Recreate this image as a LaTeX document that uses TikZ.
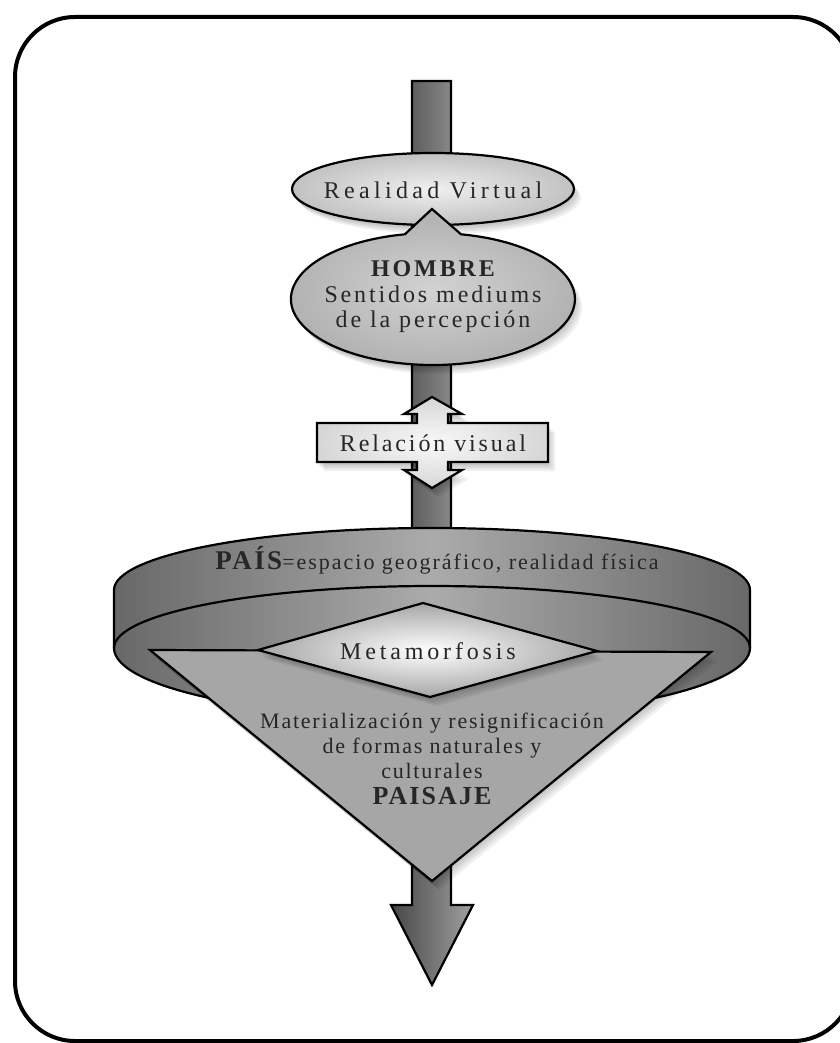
\documentclass[tikz,border=0pt]{standalone}
\usepackage{fontspec}
\setmainfont{Liberation Serif}
\usetikzlibrary{shapes.geometric,calc}

\definecolor{ink}{HTML}{262626}
\definecolor{shaftdark}{HTML}{474747}
\definecolor{shaftlight}{HTML}{A0A0A0}
\definecolor{bandedge}{HTML}{686868}
\definecolor{bandmid}{HTML}{ABABAB}
\definecolor{conegray}{HTML}{A6A6A6}

\begin{document}
\begin{tikzpicture}[x=1pt,y=-1pt,
  outline/.style={draw=black, line width=2.2pt, line join=miter},
  lbl/.style={text=ink, inner sep=0pt, align=center},
  shadowlayer/.style={preaction={fill=black, opacity=0.06,
      transform canvas={xshift=#1pt, yshift=-#1pt-2pt}}},
  softshadow/.style={shadowlayer=1, shadowlayer=3, shadowlayer=5, shadowlayer=7},
  spaced/.style={font=\fontsize{24pt}{25.5pt}\selectfont\addfontfeatures{LetterSpace=#1}},
]
\useasboundingbox (0,0) rectangle (839,1043);
\fill[white] (0,0) rectangle (839,1043);

% outer frame
\draw[line width=4pt, rounded corners=60pt] (15,17) rectangle (853,1041);

% central shaft ending in the downward arrow head
\coordinate (shafttop) at (432,81);
\coordinate (tip) at (432,985);
\path[outline, left color=shaftdark, right color=shaftlight]
  ($(shafttop)+(-20,0)$) -- ($(shafttop)+(19,0)$) -- (451,905) -- (473,905)
  -- (tip) -- (391,905) -- (412,905) -- cycle;

% Realidad Virtual
\node[ellipse, outline, softshadow, inner color=gray!12, outer color=gray!48,
      minimum width=282pt, minimum height=72pt, inner sep=0pt] (rv) at (433,189) {};

% HOMBRE: ellipse with a pointed top
\path[outline, softshadow, inner color=gray!35, outer color=gray!62]
  (461,234.3) arc[start angle=-78.6, end angle=258.6, x radius=142, y radius=66]
  -- (432,209) -- cycle;

% Relación visual: bar crossed by a double arrow
\path[outline, softshadow, inner color=gray!5, outer color=gray!32]
  (432,397) -- (462,414) -- (448,414) -- (448,423) -- (548,423) -- (548,462)
  -- (448,462) -- (448,470) -- (462,470) -- (432,488) -- (404,470) -- (417,470)
  -- (417,462) -- (317,462) -- (317,423) -- (417,423) -- (417,414) -- (404,414) -- cycle;

% PAÍS band
\path[outline, left color=bandedge, right color=bandedge, middle color=bandmid]
  (114,590) arc[start angle=180, end angle=360, x radius=318, y radius=62]
  -- (750,648) arc[start angle=0, end angle=180, x radius=318, y radius=70] -- cycle;
\draw[line width=2.2pt] (114,648) arc[start angle=180, end angle=360, x radius=318, y radius=62];

% PAISAJE cone
\path[outline, softshadow, fill=conegray] (150,650) -- (711,652) -- (432,881) -- cycle;

% Metamorfosis diamond
\path[outline, softshadow, inner color=white, outer color=gray!70]
  (258,650) -- (423,603) -- (597,651) -- (430,697) -- cycle;

% labels
\node[lbl, spaced=18] (rvtext) at (433,190) {Realidad Virtual};
\node[lbl, spaced=12] (hombre) at (433,297)
  {{\bfseries HOMBRE}\\Sentidos mediums\\de la percepción};
\node[lbl, spaced=12] (rel) at (433,443) {Relación visual};
\node[lbl, font=\fontsize{22pt}{25pt}\selectfont\addfontfeatures{LetterSpace=9}] (pais) at (437,560)
  {{\fontsize{27pt}{25pt}\selectfont\bfseries PAÍS}=espacio geográfico, realidad física};
\node[lbl, spaced=16] (meta) at (428,651) {Metamorfosis};
\node[lbl, font=\fontsize{22pt}{25pt}\selectfont\addfontfeatures{LetterSpace=8}] (paisaje) at (432,759)
  {Materialización y resignificación\\de formas naturales y\\culturales\\[1pt]
   {\fontsize{26pt}{25pt}\selectfont\bfseries PAISAJE}};
\end{tikzpicture}
\end{document}
